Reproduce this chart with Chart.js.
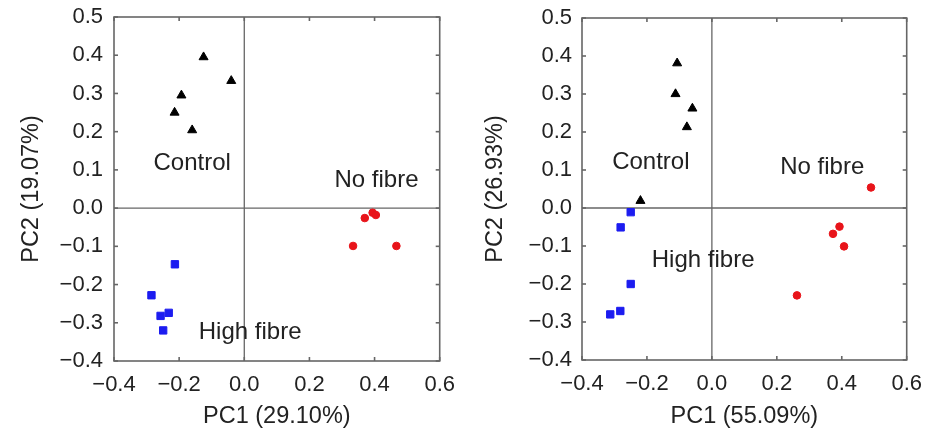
<!DOCTYPE html>
<html>
<head>
<meta charset="utf-8">
<script src="https://cdn.jsdelivr.net/npm/chart.js@4"></script>
<style>
  html, body { margin: 0; padding: 0; background: #fff; }
  #wrap { position: relative; width: 933px; height: 434px; }
  .panel { position: absolute; top: 0; height: 434px; }
  #left { left: 0; width: 466px; }
  #right { left: 466px; width: 467px; }
</style>
</head>
<body>
<div id="wrap">
  <div class="panel" id="left"><canvas id="pcaA" width="466" height="434"></canvas></div>
  <div class="panel" id="right"><canvas id="pcaB" width="467" height="434"></canvas></div>
</div>
<script>
"use strict";

const groupNames = ["Control", "High fibre", "No fibre"];
const xTicks = [-0.4, -0.2, 0.0, 0.2, 0.4, 0.6];
const yTicks = [-0.4, -0.3, -0.2, -0.1, 0.0, 0.1, 0.2, 0.3, 0.4, 0.5];

// first PCA (PC1 29.10%, PC2 19.07%)
const aTitles = ["PC1 (29.10%)", "PC2 (19.07%)"];
const aControlPC1 = [-0.125, -0.04, -0.193, -0.214, -0.16];
const aControlPC2 = [0.395, 0.333, 0.295, 0.25, 0.204];
const aHighPC1 = [-0.213, -0.285, -0.257, -0.232, -0.249];
const aHighPC2 = [-0.147, -0.228, -0.282, -0.274, -0.32];
const aNoPC1 = [0.37, 0.394, 0.404, 0.334, 0.467];
const aNoPC2 = [-0.026, -0.012, -0.018, -0.099, -0.099];

// second PCA (PC1 55.09%, PC2 26.93%)
const bTitles = ["PC1 (55.09%)", "PC2 (26.93%)"];
const bControlPC1 = [-0.107, -0.112, -0.06, -0.077, -0.22];
const bControlPC2 = [0.381, 0.3, 0.262, 0.213, 0.019];
const bHighPC1 = [-0.25, -0.281, -0.25, -0.282, -0.313];
const bHighPC2 = [-0.011, -0.051, -0.2, -0.271, -0.28];
const bNoPC1 = [0.49, 0.393, 0.373, 0.407, 0.262];
const bNoPC2 = [0.054, -0.049, -0.068, -0.101, -0.23];

const FONT = "'Liberation Sans', Arial, sans-serif";
const INK = "#222";
const FRAME = "#666";

const pts = (xs, ys) => xs.map((x, i) => ({ x: x, y: ys[i] }));
const fmt = (v) => v.toFixed(1).replace("-", "\u2212");

// box around the plot, zero lines, inward ticks and the group names
const framePlugin = {
  id: "frame",
  beforeDatasetsDraw(chart) {
    const { ctx, chartArea: a } = chart;
    const sx = chart.scales.x;
    const sy = chart.scales.y;
    ctx.save();
    ctx.strokeStyle = FRAME;
    ctx.lineWidth = 1.3;
    const line = (x1, y1, x2, y2) => {
      ctx.beginPath();
      ctx.moveTo(x1, y1);
      ctx.lineTo(x2, y2);
      ctx.stroke();
    };
    const x0 = sx.getPixelForValue(0);
    const y0 = sy.getPixelForValue(0);
    line(x0, a.top, x0, a.bottom);
    line(a.left, y0, a.right, y0);
    ctx.lineWidth = 1.6;
    ctx.strokeRect(a.left, a.top, a.right - a.left, a.bottom - a.top);
    const len = 4;
    yTicks.forEach((v) => {
      const py = sy.getPixelForValue(v);
      line(a.left, py, a.left + len, py);
      line(a.right - len, py, a.right, py);
    });
    xTicks.forEach((v) => {
      const px = sx.getPixelForValue(v);
      line(px, a.top, px, a.top + len);
      line(px, a.bottom - len, px, a.bottom);
    });
    ctx.restore();
  },
  afterDatasetsDraw(chart, args, opts) {
    const { ctx } = chart;
    ctx.save();
    ctx.fillStyle = INK;
    ctx.font = "24px " + FONT;
    ctx.textAlign = "center";
    ctx.textBaseline = "middle";
    (opts.labels || []).forEach((l) => {
      ctx.fillText(l.text, chart.scales.x.getPixelForValue(l.x), chart.scales.y.getPixelForValue(l.y));
    });
    ctx.restore();
  },
};

function makeChart(id, titles, groups, labels, box) {
  return new Chart(document.getElementById(id), {
    type: "scatter",
    plugins: [framePlugin],
    data: {
      datasets: [
        {
          label: groupNames[0],
          data: groups[0],
          pointStyle: "triangle",
          pointRadius: 5.2,
          backgroundColor: "#000",
          borderColor: "#000",
          borderWidth: 1,
        },
        {
          label: groupNames[1],
          data: groups[1],
          pointStyle: "rect",
          pointRadius: 5.2,
          backgroundColor: "#1c1cf0",
          borderColor: "#1c1cf0",
          borderWidth: 1,
        },
        {
          label: groupNames[2],
          data: groups[2],
          pointStyle: "circle",
          pointRadius: 3.8,
          backgroundColor: "#e8141a",
          borderColor: "#e8141a",
          borderWidth: 1,
        },
      ],
    },
    options: {
      responsive: false,
      animation: false,
      events: [],
      layout: {
        padding: { top: box.top, right: 20, left: 0, bottom: 0 },
      },
      plugins: {
        legend: { display: false },
        tooltip: { enabled: false },
        frame: { labels: labels },
      },
      scales: {
        x: {
          type: "linear",
          min: -0.4,
          max: 0.6,
          afterBuildTicks: (scale) => {
            scale.ticks = xTicks.map((v) => ({ value: v }));
          },
          afterFit: (scale) => {
            scale.height = box.xHeight;
          },
          grid: { display: false, drawTicks: false },
          border: { display: false },
          ticks: {
            autoSkip: false,
            maxRotation: 0,
            padding: 11,
            color: INK,
            font: { family: FONT, size: 22 },
            callback: fmt,
          },
          title: {
            display: true,
            text: titles[0],
            color: INK,
            font: { family: FONT, size: 23.5 },
            padding: { top: 0, bottom: 3 },
          },
        },
        y: {
          type: "linear",
          min: -0.4,
          max: 0.5,
          afterBuildTicks: (scale) => {
            scale.ticks = yTicks.map((v) => ({ value: v }));
          },
          afterFit: (scale) => {
            scale.width = box.yWidth;
            // keep the plot top at the layout padding, not pushed down by the top label
            scale.paddingTop = 0;
            scale.paddingBottom = 0;
          },
          grid: { display: false, drawTicks: false },
          border: { display: false },
          ticks: {
            autoSkip: false,
            padding: box.yPad,
            color: INK,
            font: { family: FONT, size: 22 },
            callback: fmt,
          },
          title: {
            display: true,
            text: titles[1],
            color: INK,
            font: { family: FONT, size: 23.5 },
            padding: { top: box.titlePad, bottom: 0 },
          },
        },
      },
    },
  });
}

makeChart(
  "pcaA",
  aTitles,
  [pts(aControlPC1, aControlPC2), pts(aHighPC1, aHighPC2), pts(aNoPC1, aNoPC2)],
  [
    { text: groupNames[0], x: -0.16, y: 0.118 },
    { text: groupNames[1], x: 0.018, y: -0.324 },
    { text: groupNames[2], x: 0.406, y: 0.073 },
  ],
  { top: 17, xHeight: 73, yWidth: 114, yPad: 11, titlePad: 17 }
);

makeChart(
  "pcaB",
  bTitles,
  [pts(bControlPC1, bControlPC2), pts(bHighPC1, bHighPC2), pts(bNoPC1, bNoPC2)],
  [
    { text: groupNames[0], x: -0.188, y: 0.121 },
    { text: groupNames[1], x: -0.027, y: -0.138 },
    { text: groupNames[2], x: 0.34, y: 0.106 },
  ],
  { top: 18, xHeight: 74, yWidth: 116, yPad: 10, titlePad: 15 }
);
</script>
</body>
</html>
